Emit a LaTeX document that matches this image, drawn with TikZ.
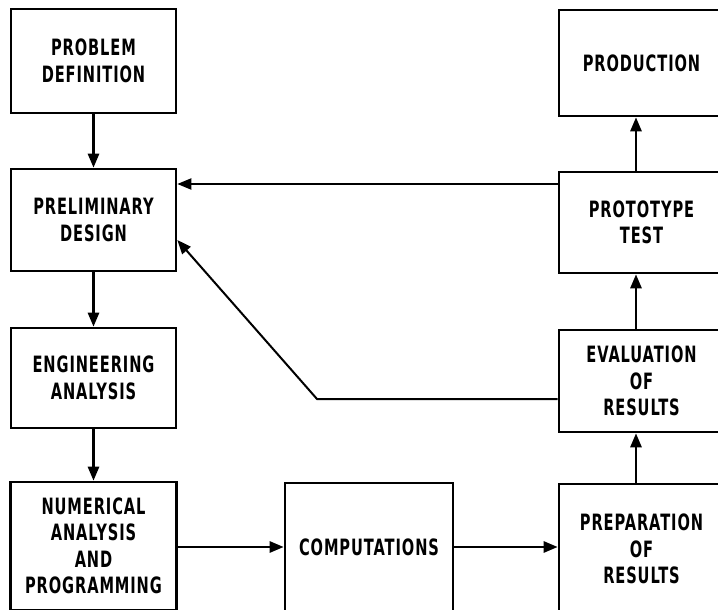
\documentclass[tikz,border=0pt]{standalone}
\usepackage{fontspec}
\setmainfont{DejaVu Sans}
\newfontfamily\boxfont[FakeStretch=0.65,LetterSpace=4]{DejaVu Sans Bold}
\usetikzlibrary{arrows.meta}
\begin{document}
\begin{tikzpicture}[x=1pt,y=-1pt,
  block/.style={draw, line width=2.6pt, rectangle, inner sep=0pt, align=center,
    font=\boxfont\fontsize{22.5}{26.5}\selectfont},
  flow/.style={line width=2.6pt, -{Triangle[length=14pt,width=11pt]}},
  feedback/.style={line width=2pt, -{Triangle[length=14pt,width=11pt]}}]
\useasboundingbox (0,0) rectangle (718,610);
\clip (0,0) rectangle (718,610);

% left column
\node[block, minimum width=165pt, minimum height=104pt] (prob)   at (93.5,61)  {PROBLEM\\DEFINITION};
\node[block, minimum width=165pt, minimum height=102pt] (prelim) at (93.5,220) {PRELIMINARY\\DESIGN};
\node[block, minimum width=165pt, minimum height=100pt] (eng)    at (93.5,378) {ENGINEERING\\ANALYSIS};
\node[block, minimum width=166pt, minimum height=128pt] (num)    at (93.5,546) {NUMERICAL\\ANALYSIS\\AND\\PROGRAMMING};

% middle
\node[block, minimum width=168pt, minimum height=129pt] (comp)   at (369,547.5) {COMPUTATIONS};

% right column
\node[block, minimum width=165pt, minimum height=106pt] (prod)   at (641.5,63)  {PRODUCTION};
\node[block, minimum width=165pt, minimum height=101pt] (proto)  at (641.5,222.5) {PROTOTYPE\\TEST};
\node[block, minimum width=165pt, minimum height=102pt] (eval)   at (641.5,381) {EVALUATION\\OF\\RESULTS};
\node[block, minimum width=165pt, minimum height=130pt] (prep)   at (641.5,549) {PREPARATION\\OF\\RESULTS};

% main flow
\draw[flow] (prob) -- (prelim);
\draw[flow] (prelim) -- (eng);
\draw[flow] (eng) -- (num);
\draw[flow] (num.east |- 0,547) -- (comp.west |- 0,547);
\draw[flow] (comp.east |- 0,547) -- (prep.west |- 0,547);
\draw[flow] ([xshift=-5.5pt]prep.north) -- ([xshift=-5.5pt]eval.south);
\draw[flow] ([xshift=-5.5pt]eval.north) -- ([xshift=-5.5pt]proto.south);
\draw[flow] ([xshift=-5.5pt]proto.north) -- ([xshift=-5.5pt]prod.south);

% feedback loops
\draw[feedback] (proto.west |- 0,184) -- (prelim.east |- 0,184);
\coordinate (bend) at (317,399);
\draw[feedback] (eval.west |- 0,399) -- (bend) -- (prelim.east |- 0,240);
\end{tikzpicture}
\end{document}
